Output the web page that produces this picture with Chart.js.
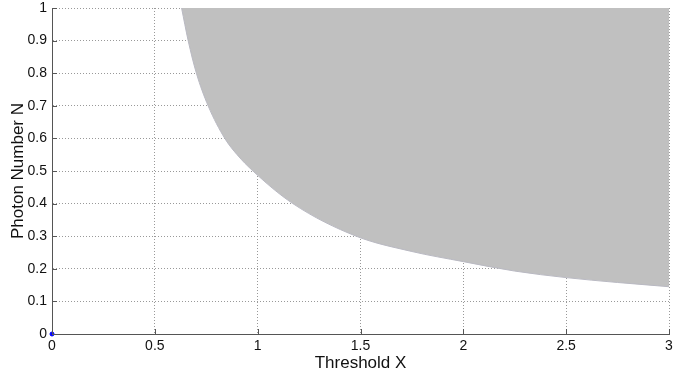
<!DOCTYPE html>
<html>
<head>
<meta charset="utf-8">
<script src="https://cdn.jsdelivr.net/npm/chart.js@4/dist/chart.umd.min.js"></script>
<style>
html,body{margin:0;padding:0;background:#fff;}
#wrap{width:674px;height:376px;position:relative;}
</style>
</head>
<body>
<div id="wrap"><canvas id="c" width="674" height="376"></canvas></div>
<script>
// Boundary of the shaded region
const boundaryX = [0.63, 0.662, 0.702, 0.759, 0.84, 0.90, 0.977, 1.171, 1.479, 1.75, 2.0, 2.25, 2.5, 2.75, 3.0];
const boundaryY = [1.0, 0.9, 0.8, 0.7, 0.6, 0.55, 0.5, 0.4, 0.3, 0.253, 0.222, 0.193, 0.173, 0.158, 0.145];
// Single marker
const markerX = [0];
const markerY = [0];
// Tick labels
const xTickValues = [0, 0.5, 1, 1.5, 2, 2.5, 3];
const xTickLabels = ['0', '0.5', '1', '1.5', '2', '2.5', '3'];
const yTickValues = [0, 0.1, 0.2, 0.3, 0.4, 0.5, 0.6, 0.7, 0.8, 0.9, 1];
const yTickLabels = ['0', '0.1', '0.2', '0.3', '0.4', '0.5', '0.6', '0.7', '0.8', '0.9', '1'];

const font = "'Liberation Sans', Arial, Helvetica, sans-serif";

new Chart(document.getElementById('c'), {
  type: 'line',
  data: {
    datasets: [
      {
        data: boundaryX.map((x, i) => ({x: x, y: boundaryY[i]})),
        borderColor: '#b9b9c2',
        borderWidth: 1,
        backgroundColor: '#c0c0c0',
        fill: 'end',
        pointRadius: 0,
        cubicInterpolationMode: 'monotone'
      },
      {
        type: 'scatter',
        data: markerX.map((x, i) => ({x: x, y: markerY[i]})),
        backgroundColor: '#0000ff',
        borderColor: '#0000ff',
        pointRadius: 2,
        clip: false
      }
    ]
  },
  options: {
    responsive: false,
    animation: false,
    layout: {padding: {left: 8, right: 4, top: 8, bottom: 2}},
    plugins: {legend: {display: false}, tooltip: {enabled: false}},
    scales: {
      x: {
        type: 'linear', min: 0, max: 3,
        afterBuildTicks: s => { s.ticks = xTickValues.map(v => ({value: v})); },
        afterFit: s => { s.height = 40; s.paddingLeft = 0; s.paddingRight = 0; },
        ticks: {
          callback: (v) => { const i = xTickValues.indexOf(v); return i >= 0 ? xTickLabels[i] : ''; },
          color: '#111', font: {family: font, size: 14}, padding: 4, maxRotation: 0
        },
        grid: {color: '#999', lineWidth: 1, tickLength: 0, drawTicks: false},
        border: {color: '#555', width: 1, dash: [1, 2], display: true},
        title: {display: true, text: 'Threshold X', color: '#111', font: {family: font, size: 17}, padding: {top: 2, bottom: 0}}
      },
      y: {
        type: 'linear', min: 0, max: 1,
        afterBuildTicks: s => { s.ticks = yTickValues.map(v => ({value: v})); },
        afterFit: s => { s.width = 44; s.paddingTop = 0; s.paddingBottom = 0; },
        ticks: {
          callback: (v) => { const i = yTickValues.findIndex(t => Math.abs(t - v) < 1e-9); return i >= 0 ? yTickLabels[i] : ''; },
          color: '#111', font: {family: font, size: 14}, padding: 5
        },
        grid: {color: '#999', lineWidth: 1, tickLength: 0, drawTicks: false},
        border: {color: '#555', width: 1, dash: [1, 2], display: true},
        title: {display: true, text: 'Photon Number N', color: '#111', font: {family: font, size: 17}, padding: {top: 0, bottom: 3}}
      }
    }
  },
  plugins: [{
    id: 'axesSolid',
    afterDatasetsDraw(chart) {
      const {ctx, chartArea: a} = chart;
      ctx.save();
      ctx.strokeStyle = '#555';
      ctx.lineWidth = 1;
      ctx.setLineDash([]);
      ctx.beginPath();
      ctx.moveTo(a.left + 0.5, a.top);
      ctx.lineTo(a.left + 0.5, a.bottom + 0.5);
      ctx.lineTo(a.right, a.bottom + 0.5);
      ctx.stroke();
      const xs = chart.scales.x, ys = chart.scales.y;
      ctx.beginPath();
      xTickValues.forEach(v => { const px = Math.round(xs.getPixelForValue(v)) + 0.5; ctx.moveTo(px, a.bottom); ctx.lineTo(px, a.bottom - 5); });
      yTickValues.forEach(v => { const py = Math.round(ys.getPixelForValue(v)) + 0.5; ctx.moveTo(a.left, py); ctx.lineTo(a.left + 5, py); });
      ctx.stroke();
      ctx.restore();
    }
  }]
});
</script>
</body>
</html>
